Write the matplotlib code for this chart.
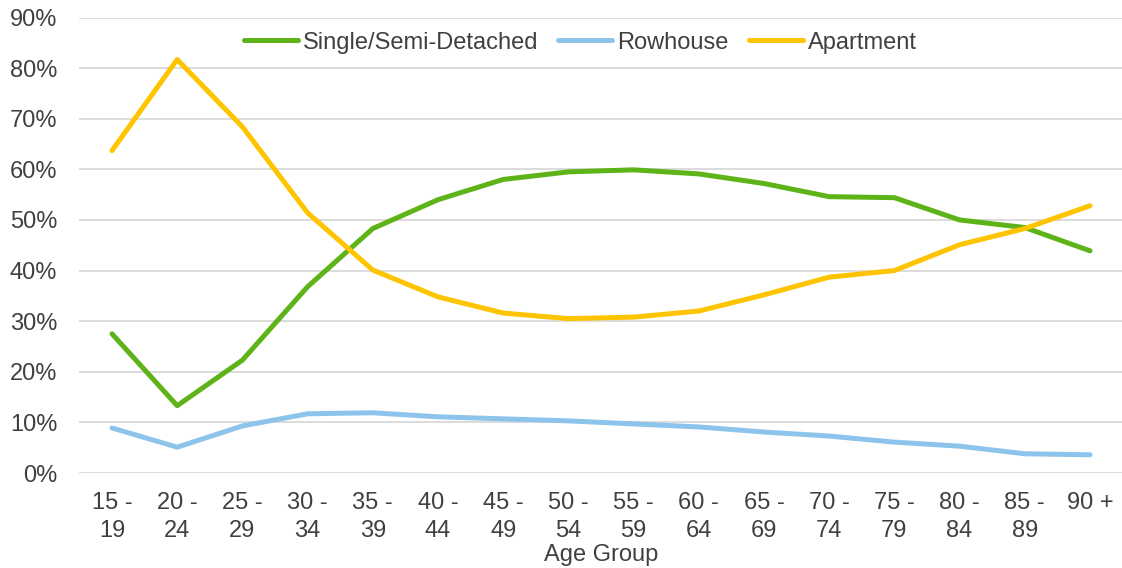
import matplotlib
matplotlib.use("Agg")
import matplotlib.pyplot as plt
import numpy as np
from matplotlib.ticker import PercentFormatter

plt.rcParams["font.family"] = ["Liberation Sans", "DejaVu Sans"]

age_groups = ["15 -\n19", "20 -\n24", "25 -\n29", "30 -\n34", "35 -\n39", "40 -\n44",
              "45 -\n49", "50 -\n54", "55 -\n59", "60 -\n64", "65 -\n69", "70 -\n74",
              "75 -\n79", "80 -\n84", "85 -\n89", "90 +"]
single_semi = [27.5, 13.3, 22.3, 36.8, 48.3, 54.0, 58.0, 59.5, 59.9, 59.1,
               57.2, 54.6, 54.4, 50.0, 48.5, 43.9]
rowhouse = [8.9, 5.1, 9.3, 11.7, 11.9, 11.1, 10.7, 10.3, 9.7, 9.1,
            8.1, 7.3, 6.1, 5.3, 3.8, 3.6]
apartment = [63.7, 81.7, 68.4, 51.4, 40.1, 34.8, 31.6, 30.5, 30.8, 32.0,
             35.2, 38.7, 40.0, 45.1, 48.3, 52.8]

TEXT = "#404040"
FS = 17

fig = plt.figure(figsize=(11.22, 5.68), dpi=100)
ax = fig.add_axes([79.4 / 1122, 1 - 473 / 568, (1122.6 - 79.4) / 1122, (473 - 17.5) / 568])

x = np.arange(len(age_groups))
ax.plot(x, single_semi, color="#5DB318", lw=3.6, label="Single/Semi-Detached", solid_capstyle="round")
ax.plot(x, rowhouse, color="#8DC4EB", lw=3.6, label="Rowhouse", solid_capstyle="round")
ax.plot(x, apartment, color="#FFC400", lw=3.6, label="Apartment", solid_capstyle="round")

ax.set_xlim(-0.5, len(age_groups) - 0.5)
ax.set_ylim(0, 90)
ax.set_yticks(np.arange(0, 91, 10))
ax.yaxis.set_major_formatter(PercentFormatter(decimals=0))
ax.set_xticks(x)
ax.set_xticklabels(age_groups, fontsize=FS, color=TEXT, linespacing=1.3)
ax.tick_params(axis="y", labelsize=FS, labelcolor=TEXT, length=0, pad=16)
ax.tick_params(axis="x", length=0, pad=14)
ax.grid(True, axis="y", color="#D9D9D9", lw=1.3)
ax.set_axisbelow(True)
for s in ax.spines.values():
    s.set_visible(False)

ax.set_xlabel("Age Group", fontsize=FS, color=TEXT, labelpad=2)

ax.legend(loc="center", bbox_to_anchor=(0.48, 0.945), ncol=3, frameon=False,
          fontsize=FS, labelcolor=TEXT, handlelength=2.3, handletextpad=0.2,
          columnspacing=0.85)

fig.savefig("out.png", dpi=100)
